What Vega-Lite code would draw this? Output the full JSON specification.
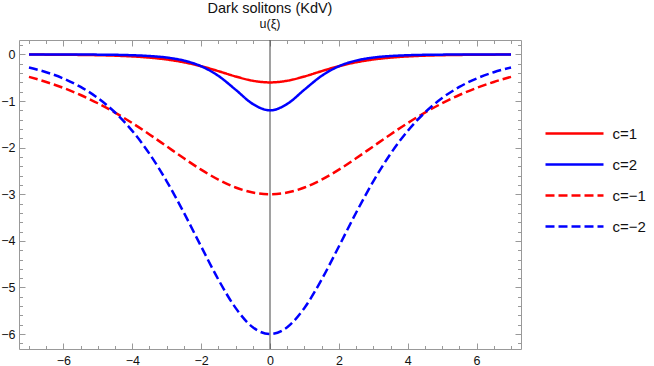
{
  "$schema": "https://vega.github.io/schema/vega-lite/v6.json",
  "width": 502,
  "height": 309,
  "autosize": {"type": "none"},
  "padding": {"left": 19, "top": 40, "right": 133, "bottom": 17},
  "background": "white",
  "title": {
    "text": "Dark solitons (KdV)",
    "subtitle": "u(ξ)",
    "anchor": "middle",
    "font": "Liberation Sans",
    "subtitleFont": "Liberation Sans",
    "fontSize": 14.5,
    "subtitleFontSize": 12.5,
    "fontWeight": "normal",
    "color": "#111",
    "subtitleColor": "#111",
    "offset": 8,
    "subtitlePadding": 1
  },
  "config": {
    "view": {"stroke": "#999", "strokeWidth": 1},
    "axis": {
      "labelFont": "Liberation Sans",
      "labelFontSize": 12.5,
      "labelColor": "#111",
      "tickColor": "#999",
      "domain": false,
      "grid": false,
      "title": null,
      "labelOverlap": false,
      "labelFlush": false
    },
    "legend": {
      "orient": "none",
      "legendX": 539.5,
      "legendY": 77.5,
      "symbolType": "M-2,0H2",
      "symbolSize": 841,
      "symbolStrokeWidth": 2.5,
      "labelFont": "Liberation Sans",
      "labelFontSize": 15,
      "labelColor": "#111",
      "labelOffset": 22,
      "rowPadding": 7
    }
  },
  "data": {
    "values": [
      {"x": -7, "u": -0.002, "series": "c=1"},
      {"x": -6.5, "u": -0.004, "series": "c=1"},
      {"x": -6, "u": -0.006, "series": "c=1"},
      {"x": -5.5, "u": -0.010, "series": "c=1"},
      {"x": -5, "u": -0.016, "series": "c=1"},
      {"x": -4.5, "u": -0.026, "series": "c=1"},
      {"x": -4, "u": -0.042, "series": "c=1"},
      {"x": -3.5, "u": -0.068, "series": "c=1"},
      {"x": -3, "u": -0.108, "series": "c=1"},
      {"x": -2.5, "u": -0.168, "series": "c=1"},
      {"x": -2, "u": -0.252, "series": "c=1"},
      {"x": -1.5, "u": -0.358, "series": "c=1"},
      {"x": -1, "u": -0.472, "series": "c=1"},
      {"x": -0.5, "u": -0.564, "series": "c=1"},
      {"x": 0, "u": -0.6, "series": "c=1"},
      {"x": 0.5, "u": -0.564, "series": "c=1"},
      {"x": 1, "u": -0.472, "series": "c=1"},
      {"x": 1.5, "u": -0.358, "series": "c=1"},
      {"x": 2, "u": -0.252, "series": "c=1"},
      {"x": 2.5, "u": -0.168, "series": "c=1"},
      {"x": 3, "u": -0.108, "series": "c=1"},
      {"x": 3.5, "u": -0.068, "series": "c=1"},
      {"x": 4, "u": -0.042, "series": "c=1"},
      {"x": 4.5, "u": -0.026, "series": "c=1"},
      {"x": 5, "u": -0.016, "series": "c=1"},
      {"x": 5.5, "u": -0.010, "series": "c=1"},
      {"x": 6, "u": -0.006, "series": "c=1"},
      {"x": 6.5, "u": -0.004, "series": "c=1"},
      {"x": 7, "u": -0.002, "series": "c=1"},

      {"x": -7, "u": -0.0002, "series": "c=2"},
      {"x": -6.5, "u": -0.0005, "series": "c=2"},
      {"x": -6, "u": -0.001, "series": "c=2"},
      {"x": -5.5, "u": -0.002, "series": "c=2"},
      {"x": -5, "u": -0.004, "series": "c=2"},
      {"x": -4.5, "u": -0.008, "series": "c=2"},
      {"x": -4, "u": -0.017, "series": "c=2"},
      {"x": -3.5, "u": -0.034, "series": "c=2"},
      {"x": -3, "u": -0.067, "series": "c=2"},
      {"x": -2.5, "u": -0.132, "series": "c=2"},
      {"x": -2, "u": -0.253, "series": "c=2"},
      {"x": -1.5, "u": -0.459, "series": "c=2"},
      {"x": -1, "u": -0.755, "series": "c=2"},
      {"x": -0.5, "u": -1.062, "series": "c=2"},
      {"x": 0, "u": -1.2, "series": "c=2"},
      {"x": 0.5, "u": -1.062, "series": "c=2"},
      {"x": 1, "u": -0.755, "series": "c=2"},
      {"x": 1.5, "u": -0.459, "series": "c=2"},
      {"x": 2, "u": -0.253, "series": "c=2"},
      {"x": 2.5, "u": -0.132, "series": "c=2"},
      {"x": 3, "u": -0.067, "series": "c=2"},
      {"x": 3.5, "u": -0.034, "series": "c=2"},
      {"x": 4, "u": -0.017, "series": "c=2"},
      {"x": 4.5, "u": -0.008, "series": "c=2"},
      {"x": 5, "u": -0.004, "series": "c=2"},
      {"x": 5.5, "u": -0.002, "series": "c=2"},
      {"x": 6, "u": -0.001, "series": "c=2"},
      {"x": 6.5, "u": -0.0005, "series": "c=2"},
      {"x": 7, "u": -0.0002, "series": "c=2"},

      {"x": -7, "u": -0.481, "series": "c=−1"},
      {"x": -6.5, "u": -0.590, "series": "c=−1"},
      {"x": -6, "u": -0.719, "series": "c=−1"},
      {"x": -5.5, "u": -0.870, "series": "c=−1"},
      {"x": -5, "u": -1.047, "series": "c=−1"},
      {"x": -4.5, "u": -1.248, "series": "c=−1"},
      {"x": -4, "u": -1.472, "series": "c=−1"},
      {"x": -3.5, "u": -1.716, "series": "c=−1"},
      {"x": -3, "u": -1.972, "series": "c=−1"},
      {"x": -2.5, "u": -2.228, "series": "c=−1"},
      {"x": -2, "u": -2.472, "series": "c=−1"},
      {"x": -1.5, "u": -2.686, "series": "c=−1"},
      {"x": -1, "u": -2.855, "series": "c=−1"},
      {"x": -0.5, "u": -2.963, "series": "c=−1"},
      {"x": 0, "u": -3, "series": "c=−1"},
      {"x": 0.5, "u": -2.963, "series": "c=−1"},
      {"x": 1, "u": -2.855, "series": "c=−1"},
      {"x": 1.5, "u": -2.686, "series": "c=−1"},
      {"x": 2, "u": -2.472, "series": "c=−1"},
      {"x": 2.5, "u": -2.228, "series": "c=−1"},
      {"x": 3, "u": -1.972, "series": "c=−1"},
      {"x": 3.5, "u": -1.716, "series": "c=−1"},
      {"x": 4, "u": -1.472, "series": "c=−1"},
      {"x": 4.5, "u": -1.248, "series": "c=−1"},
      {"x": 5, "u": -1.047, "series": "c=−1"},
      {"x": 5.5, "u": -0.870, "series": "c=−1"},
      {"x": 6, "u": -0.719, "series": "c=−1"},
      {"x": 6.5, "u": -0.590, "series": "c=−1"},
      {"x": 7, "u": -0.481, "series": "c=−1"},

      {"x": -7, "u": -0.280, "series": "c=−2"},
      {"x": -6.5, "u": -0.381, "series": "c=−2"},
      {"x": -6, "u": -0.516, "series": "c=−2"},
      {"x": -5.5, "u": -0.697, "series": "c=−2"},
      {"x": -5, "u": -0.935, "series": "c=−2"},
      {"x": -4.5, "u": -1.245, "series": "c=−2"},
      {"x": -4, "u": -1.640, "series": "c=−2"},
      {"x": -3.5, "u": -2.132, "series": "c=−2"},
      {"x": -3, "u": -2.722, "series": "c=−2"},
      {"x": -2.5, "u": -3.397, "series": "c=−2"},
      {"x": -2, "u": -4.120, "series": "c=−2"},
      {"x": -1.5, "u": -4.830, "series": "c=−2"},
      {"x": -1, "u": -5.438, "series": "c=−2"},
      {"x": -0.5, "u": -5.853, "series": "c=−2"},
      {"x": 0, "u": -6, "series": "c=−2"},
      {"x": 0.5, "u": -5.853, "series": "c=−2"},
      {"x": 1, "u": -5.438, "series": "c=−2"},
      {"x": 1.5, "u": -4.830, "series": "c=−2"},
      {"x": 2, "u": -4.120, "series": "c=−2"},
      {"x": 2.5, "u": -3.397, "series": "c=−2"},
      {"x": 3, "u": -2.722, "series": "c=−2"},
      {"x": 3.5, "u": -2.132, "series": "c=−2"},
      {"x": 4, "u": -1.640, "series": "c=−2"},
      {"x": 4.5, "u": -1.245, "series": "c=−2"},
      {"x": 5, "u": -0.935, "series": "c=−2"},
      {"x": 5.5, "u": -0.697, "series": "c=−2"},
      {"x": 6, "u": -0.516, "series": "c=−2"},
      {"x": 6.5, "u": -0.381, "series": "c=−2"},
      {"x": 7, "u": -0.280, "series": "c=−2"}
    ]
  },
  "layer": [
    {
      "data": {"values": [{"x": 0}]},
      "mark": {"type": "rule", "color": "#444", "strokeWidth": 1},
      "encoding": {
        "x": {"field": "x", "type": "quantitative", "axis": null}
      }
    },
    {
      "mark": {"type": "line", "strokeWidth": 2.5, "interpolate": "monotone"},
      "encoding": {
        "x": {
          "field": "x",
          "type": "quantitative",
          "scale": {"domain": [-7.29, 7.29], "nice": false, "zero": false},
          "axis": {
            "orient": "bottom",
            "values": [-7,-6.5,-6,-5.5,-5,-4.5,-4,-3.5,-3,-2.5,-2,-1.5,-1,-0.5,0,0.5,1,1.5,2,2.5,3,3.5,4,4.5,5,5.5,6,6.5,7],
            "format": ".0f",
            "labelExpr": "datum.value % 2 === 0 ? datum.label : ''",
            "tickSize": {"condition": {"test": "datum.value % 2 === 0", "value": -6}, "value": -3.5},
            "labelPadding": 11
          }
        },
        "y": {
          "field": "u",
          "type": "quantitative",
          "scale": {"domain": [-6.32, 0.31], "nice": false, "zero": false},
          "axis": {
            "orient": "left",
            "values": [-6.2,-6,-5.8,-5.6,-5.4,-5.2,-5,-4.8,-4.6,-4.4,-4.2,-4,-3.8,-3.6,-3.4,-3.2,-3,-2.8,-2.6,-2.4,-2.2,-2,-1.8,-1.6,-1.4,-1.2,-1,-0.8,-0.6,-0.4,-0.2,0,0.2],
            "format": ".0f",
            "labelExpr": "abs(datum.value - round(datum.value)) < 0.01 ? datum.label : ''",
            "tickSize": {"condition": {"test": "abs(datum.value - round(datum.value)) < 0.01", "value": -6}, "value": -3.5},
            "labelPadding": 10
          }
        },
        "color": {
          "field": "series",
          "type": "nominal",
          "scale": {"domain": ["c=1", "c=2", "c=−1", "c=−2"], "range": ["#ff0000", "#0000ff", "#ff0000", "#0000ff"]},
          "legend": {"title": null}
        },
        "strokeDash": {
          "field": "series",
          "type": "nominal",
          "scale": {"domain": ["c=1", "c=2", "c=−1", "c=−2"], "range": [[1, 0], [1, 0], [9, 4], [9, 4]]},
          "legend": {"title": null}
        }
      }
    },
    {
      "mark": {"type": "point", "opacity": 0},
      "encoding": {
        "x": {
          "field": "x",
          "type": "quantitative",
          "axis": {
            "orient": "top",
            "labels": false,
            "values": [-7,-6.5,-6,-5.5,-5,-4.5,-4,-3.5,-3,-2.5,-2,-1.5,-1,-0.5,0,0.5,1,1.5,2,2.5,3,3.5,4,4.5,5,5.5,6,6.5,7],
            "tickSize": {"condition": {"test": "datum.value % 2 === 0", "value": -6}, "value": -3.5}
          }
        },
        "y": {
          "field": "u",
          "type": "quantitative",
          "axis": {
            "orient": "right",
            "labels": false,
            "values": [-6.2,-6,-5.8,-5.6,-5.4,-5.2,-5,-4.8,-4.6,-4.4,-4.2,-4,-3.8,-3.6,-3.4,-3.2,-3,-2.8,-2.6,-2.4,-2.2,-2,-1.8,-1.6,-1.4,-1.2,-1,-0.8,-0.6,-0.4,-0.2,0,0.2],
            "tickSize": {"condition": {"test": "abs(datum.value - round(datum.value)) < 0.01", "value": -6}, "value": -3.5}
          }
        }
      }
    }
  ],
  "resolve": {"axis": {"x": "independent", "y": "independent"}}
}
